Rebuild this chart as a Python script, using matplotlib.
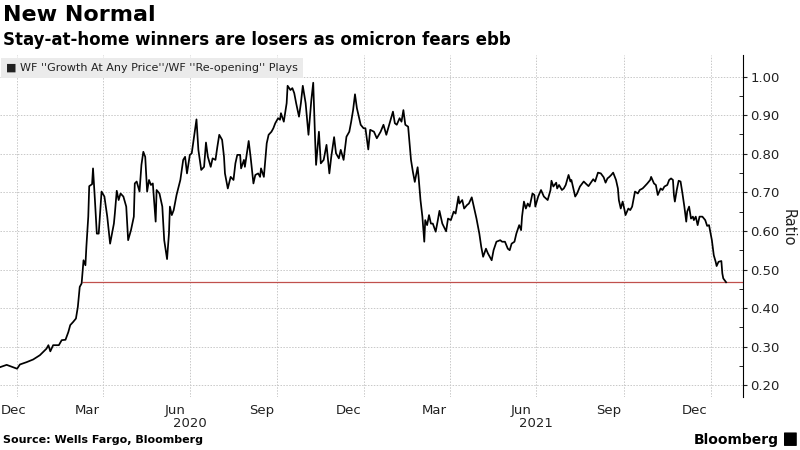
import numpy as np
import pandas as pd
import matplotlib
matplotlib.use('Agg')
import matplotlib.pyplot as plt
import matplotlib.dates as mdates
from matplotlib.patches import FancyBboxPatch

#values: days since 2020-01-01 and the ratio
start = pd.Timestamp('2020-01-01')
day = [-18, -11, 0, 3, 10, 17, 24, 31, 33, 35, 38, 44, 47, 51, 54, 56, 59, 62, 64, 66,
       68, 70, 72, 73, 75, 76, 79, 80, 82, 84, 86, 88, 89, 92, 95, 98, 102, 103, 105, 107,
       109, 112, 115, 117, 120, 123, 124, 126, 129, 131, 133, 135, 137, 139, 141, 143, 146, 147, 150, 153,
       155, 158, 160, 161, 163, 165, 168,
       172, 175, 177, 179, 182, 184, 186, 189, 191, 194, 197, 199, 201, 204, 206, 209, 211, 213, 216, 218,
       219, 222, 225, 228, 230, 232, 235, 236, 239, 240, 244, 246, 249, 251, 254, 256, 257, 260, 263, 265,
       268, 270, 272, 275, 277, 278, 281, 284, 285, 288, 290, 292, 294, 297, 299, 301, 304, 307, 310, 312,
       314, 315, 318, 320, 323, 326, 329, 331, 334, 336, 339, 341, 344, 347, 350, 352, 354, 356, 358,
       362, 365, 367, 370, 372, 376, 379, 383, 386, 389, 393, 396, 398, 400, 403, 405, 407, 409, 412, 415,
       417, 419, 422, 423, 425, 427, 429, 430, 432, 434, 436, 438, 441, 443, 445, 448, 452, 454, 457, 460,
       462, 465, 466, 469, 471, 474, 476, 479, 482, 484, 487, 489, 491, 494, 496, 500, 502, 505, 509, 511,
       514, 517, 519, 521, 524, 526, 529, 531, 532, 534, 536, 538, 540, 543, 545, 546, 549,
       552, 555, 559, 562, 563, 565, 568, 569, 571, 574, 576, 578, 581, 583, 584, 586, 588, 590, 593, 597,
       599, 602, 604, 607, 609, 612, 615, 618, 620, 622, 624, 626, 628, 631, 633, 634, 636, 638, 640, 641,
       644, 646, 648, 651, 654, 656, 659, 661, 664, 667, 668, 671, 673, 675, 678, 680, 682, 685, 687, 689,
       691, 692, 693, 695, 697, 699, 701, 703, 705, 706, 708, 710, 712, 713, 715, 717, 719, 722, 725, 727,
       729, 730, 732, 734, 736, 737, 739, 742, 743, 744, 747]
ratio = [0.247, 0.253, 0.243, 0.254, 0.260, 0.267, 0.278, 0.295, 0.304, 0.288, 0.304, 0.304, 0.317, 0.318, 0.338, 0.356, 0.364, 0.373, 0.403, 0.455,
         0.464, 0.524, 0.511, 0.559, 0.637, 0.716, 0.721, 0.762, 0.680, 0.593, 0.593, 0.663, 0.702, 0.689, 0.637, 0.567, 0.619, 0.645, 0.704, 0.680,
         0.697, 0.689, 0.663, 0.576, 0.602, 0.637, 0.723, 0.728, 0.702, 0.771, 0.805, 0.792, 0.702, 0.732, 0.719, 0.723, 0.624, 0.706, 0.697, 0.663,
         0.576, 0.527, 0.593, 0.663, 0.641, 0.654, 0.693,
         0.732, 0.784, 0.792, 0.749, 0.797, 0.801, 0.836, 0.889, 0.810, 0.758, 0.766, 0.829, 0.792, 0.766, 0.788, 0.784, 0.818, 0.849, 0.836, 0.792,
         0.749, 0.710, 0.740, 0.732, 0.775, 0.797, 0.797, 0.762, 0.784, 0.766, 0.833, 0.792, 0.723, 0.745, 0.749, 0.740, 0.762, 0.740, 0.827, 0.849,
         0.857, 0.866, 0.879, 0.892, 0.888, 0.905, 0.883, 0.931, 0.976, 0.965, 0.970, 0.957, 0.931, 0.896, 0.931, 0.976, 0.931, 0.849, 0.939, 0.984,
         0.836, 0.771, 0.857, 0.775, 0.784, 0.823, 0.749, 0.792, 0.843, 0.801, 0.788, 0.810, 0.784, 0.844, 0.857, 0.883, 0.913, 0.954, 0.918,
         0.875, 0.866, 0.866, 0.811, 0.862, 0.857, 0.840, 0.857, 0.875, 0.849, 0.883, 0.909, 0.879, 0.875, 0.892, 0.883, 0.913, 0.875, 0.870, 0.784,
         0.753, 0.727, 0.765, 0.740, 0.680, 0.637, 0.572, 0.628, 0.615, 0.641, 0.619, 0.619, 0.598, 0.624, 0.652, 0.619, 0.599, 0.632, 0.628, 0.650,
         0.645, 0.689, 0.671, 0.680, 0.658, 0.667, 0.671, 0.687, 0.654, 0.632, 0.593, 0.559, 0.533, 0.554, 0.542, 0.524, 0.550, 0.572, 0.576, 0.572,
         0.572, 0.554, 0.550, 0.567, 0.572, 0.593, 0.615, 0.602, 0.637, 0.676, 0.658, 0.671, 0.663, 0.697, 0.693, 0.663, 0.689,
         0.706, 0.689, 0.680, 0.706, 0.730, 0.715, 0.725, 0.710, 0.719, 0.706, 0.710, 0.719, 0.745, 0.728, 0.732, 0.710, 0.689, 0.697, 0.715, 0.728,
         0.723, 0.716, 0.723, 0.734, 0.728, 0.751, 0.749, 0.739, 0.725, 0.736, 0.740, 0.745, 0.751, 0.732, 0.710, 0.680, 0.658, 0.676, 0.654, 0.641,
         0.658, 0.654, 0.663, 0.702, 0.697, 0.706, 0.710, 0.715, 0.723, 0.732, 0.740, 0.723, 0.719, 0.693, 0.710, 0.706, 0.715, 0.719, 0.732, 0.736,
         0.732, 0.693, 0.676, 0.706, 0.730, 0.728, 0.697, 0.663, 0.624, 0.650, 0.663, 0.632, 0.637, 0.628, 0.637, 0.615, 0.637, 0.637, 0.628, 0.613,
         0.615, 0.602, 0.576, 0.537, 0.520, 0.509, 0.520, 0.522, 0.490, 0.477, 0.467]

month_ticks = ['2019-12-15', '2020-03-15', '2020-06-15', '2020-09-15', '2020-12-15',
               '2021-03-15', '2021-06-15', '2021-09-15', '2021-12-15']
month_labels = ['Dec', 'Mar', 'Jun', 'Sep', 'Dec', 'Mar', 'Jun', 'Sep', 'Dec']
year_pos = ['2020-07-01', '2021-07-01']
year_labels = ['2020', '2021']
y_ticks = [0.2, 0.3, 0.4, 0.5, 0.6, 0.7, 0.8, 0.9, 1.0]

dates = start + pd.to_timedelta(day, unit='D')
x0 = pd.Timestamp('2019-12-14')
x1 = pd.Timestamp('2022-02-04')

fig = plt.figure(figsize=(8, 4.5), dpi=100)
ax = fig.add_axes([0.0, 0.118, 0.929, 0.76])

ax.plot(dates, ratio, color='black', lw=1.25, zorder=3)

#red line at the latest level, from where the series first got there
r = np.array(ratio)
last = r[-1]
i = int(np.argmax(r >= last))
cross = day[i-1] + (last - r[i-1]) / (r[i] - r[i-1]) * (day[i] - day[i-1])
ax.hlines(last, start + pd.Timedelta(days=cross), x1, color='#c0504d', lw=0.9, zorder=2)

ax.set_xlim(x0, x1)
ax.set_ylim(0.17, 1.056)

#axes look
for s in ['top', 'left', 'bottom']:
    ax.spines[s].set_visible(False)
ax.spines['right'].set_color('black')
ax.spines['right'].set_linewidth(0.8)
ax.yaxis.tick_right()
ax.set_yticks(y_ticks)
ax.set_yticklabels(['%.2f' % v for v in y_ticks])
ax.set_yticks(np.arange(0.25, 1.05, 0.1), minor=True)
ax.tick_params(axis='y', which='major', direction='out', length=3, width=0.8, labelsize=9.5, pad=2, colors='#222222')
ax.tick_params(axis='y', which='minor', direction='in', length=3, width=0.6)

ax.xaxis.set_major_locator(mdates.MonthLocator(bymonth=[1, 4, 7, 10]))
ax.xaxis.set_major_formatter(plt.NullFormatter())
ax.set_xticks(mdates.date2num(pd.to_datetime(month_ticks)), minor=True)
ax.set_xticklabels(month_labels, minor=True)
ax.tick_params(axis='x', which='both', length=0, labelsize=9.5, pad=5, colors='#222222')
ax.get_xticklabels(minor=True)[0].set_ha('left')

ax.grid(which='major', color='#c8c8c8', ls=(0, (1.5, 1.5)), lw=0.7)

for p, t in zip(year_pos, year_labels):
    ax.text(pd.Timestamp(p), -0.079, t, transform=ax.get_xaxis_transform(),
            ha='center', va='center', fontsize=9.5, color='#222222')

#titles and legend box
fig.text(0.004, 0.966, 'New Normal', fontsize=16, weight='bold', va='center')
fig.text(0.004, 0.911, 'Stay-at-home winners are losers as omicron fears ebb', fontsize=12, weight='bold', va='center')
fig.text(0.008, 0.849, "\u25a0 WF ''Growth At Any Price''/WF ''Re-opening'' Plays", fontsize=8, va='center',
         color='#222222', bbox=dict(boxstyle='square,pad=0.45', fc='#ebebeb', ec='none'))
fig.text(0.985, 0.493, 'Ratio', fontsize=10.5, rotation=270, ha='center', va='center', color='#222222')

#footer
fig.text(0.004, 0.022, 'Source: Wells Fargo, Bloomberg', fontsize=8, weight='bold', va='center')
fig.text(0.973, 0.022, 'Bloomberg', fontsize=10, weight='bold', va='center', ha='right')
fig.patches.append(FancyBboxPatch((0.981, 0.01), 0.014, 0.028, boxstyle='round,pad=0.001',
                                  transform=fig.transFigure, fc='black', ec='none'))

fig.savefig('out.png', dpi=100)
